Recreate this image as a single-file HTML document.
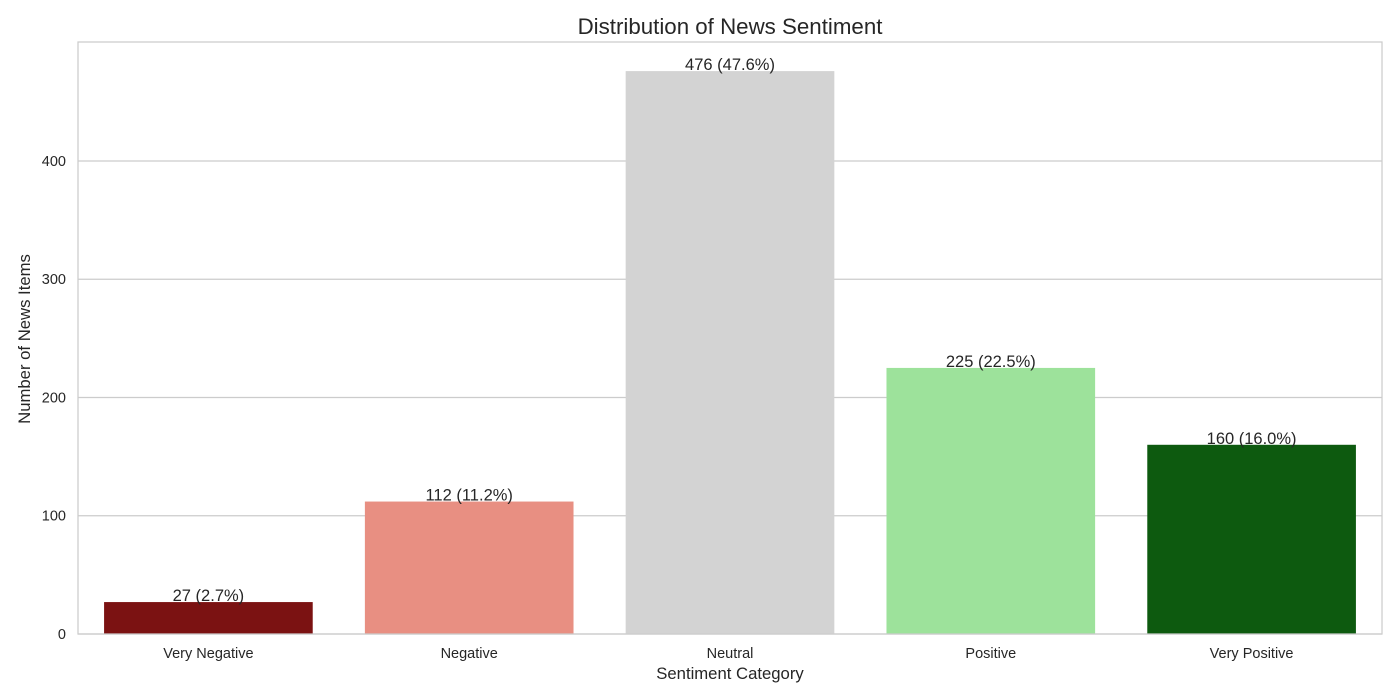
<!DOCTYPE html>
<html><head><meta charset="utf-8"><style>
html,body{margin:0;padding:0;background:#fff;}
svg{display:block;font-family:"Liberation Sans",Arial,sans-serif;}
</style></head><body>
<svg id="chart" width="1400" height="700">
<rect x="0" y="0" width="1400" height="700" fill="#fff"/>
<text x="730" y="34" text-anchor="middle" font-size="22.3" fill="#262626">Distribution of News Sentiment</text>
<g id="grid"></g>
<g id="bars"></g>
<rect x="78" y="42" width="1304" height="592" fill="none" stroke="#cccccc" stroke-width="1.25"/>
<text x="730" y="679" text-anchor="middle" font-size="16.7" fill="#262626">Sentiment Category</text>
<text transform="translate(30,339) rotate(-90)" text-anchor="middle" font-size="16.7" fill="#262626">Number of News Items</text>
</svg>
<script>
const categories = ["Very Negative","Negative","Neutral","Positive","Very Positive"];
const counts = [27,112,476,225,160];
const percents = ["2.7%","11.2%","47.6%","22.5%","16.0%"];
const yTicks = [0,100,200,300,400];
const colors = ["#7b1212","#e88f82","#d3d3d3","#9de29b","#0d5a0f"];
const NS="http://www.w3.org/2000/svg";
const L=78,R=1382,T=42,B=634,yMax=500.6;
function y(v){return B-(v/yMax)*(B-T);}
const band=(R-L)/categories.length;
function xc(i){return L+band*(i+0.5);}
const grid=document.getElementById('grid'),bars=document.getElementById('bars');
yTicks.forEach(t=>{
 const ln=document.createElementNS(NS,'line');
 ln.setAttribute('x1',L);ln.setAttribute('x2',R);ln.setAttribute('y1',y(t));ln.setAttribute('y2',y(t));
 ln.setAttribute('stroke','#cccccc');ln.setAttribute('stroke-width','1.25');
 
 
 grid.appendChild(ln);
 const tx=document.createElementNS(NS,'text');
 tx.setAttribute('x',L-12);tx.setAttribute('y',y(t)+5);tx.setAttribute('text-anchor','end');
 tx.setAttribute('font-size','14.5');tx.setAttribute('fill','#262626');tx.textContent=t;
 
 
 grid.appendChild(tx);
});
const bw=band*0.8;
categories.forEach((c,i)=>{
 const r=document.createElementNS(NS,'rect');
 r.setAttribute('x',xc(i)-bw/2);r.setAttribute('width',bw);
 r.setAttribute('y',y(counts[i]));r.setAttribute('height',B-y(counts[i]));
 r.setAttribute('fill',colors[i]);
 
 
 bars.appendChild(r);
 const lb=document.createElementNS(NS,'text');
 lb.setAttribute('x',xc(i));lb.setAttribute('y',y(counts[i])-1);lb.setAttribute('text-anchor','middle');
 lb.setAttribute('font-size','16.5');lb.setAttribute('fill','#262626');
 lb.textContent=counts[i]+' ('+percents[i]+')';
 
 
 bars.appendChild(lb);
 const xt=document.createElementNS(NS,'text');
 xt.setAttribute('x',xc(i));xt.setAttribute('y',B+24);xt.setAttribute('text-anchor','middle');
 xt.setAttribute('font-size','14.5');xt.setAttribute('fill','#262626');xt.textContent=c;
 
 
 bars.appendChild(xt);
});
</script>
</body></html>
